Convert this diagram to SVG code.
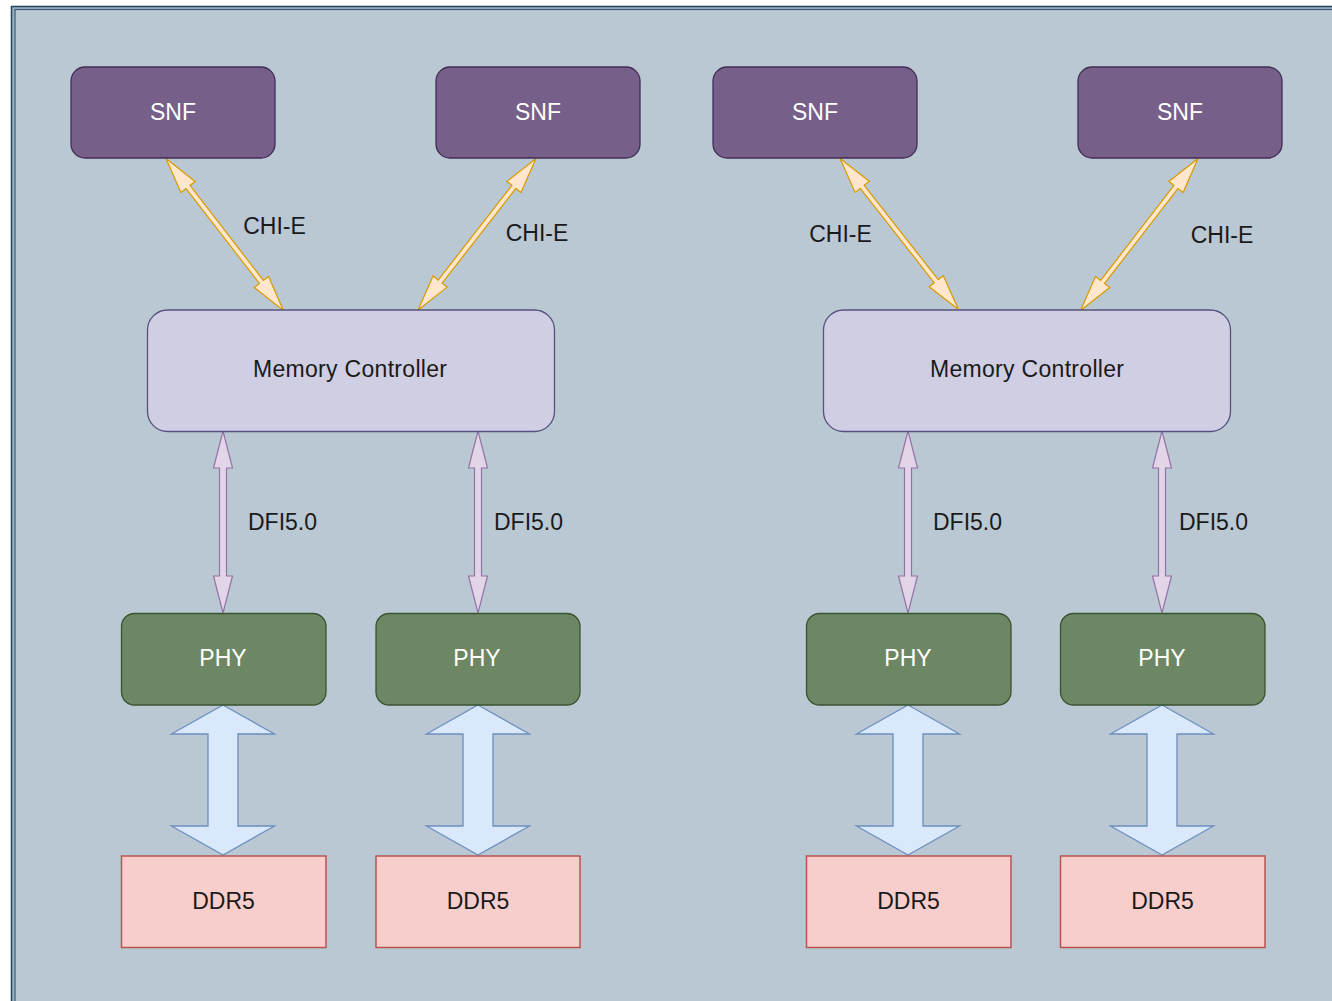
<svg xmlns="http://www.w3.org/2000/svg" xmlns:xlink="http://www.w3.org/1999/xlink" width="1332" height="1001" viewBox="0 0 1332 1001">
  <style>
    text { font-family: "Liberation Sans", Arial, Helvetica, sans-serif; font-size: 23px; }
    .lbl { fill: #1a1a1a; }
    .w { fill: #ffffff; text-anchor: middle; }
    .b { fill: #1a1a1a; text-anchor: middle; }
    .snf { fill: #76608a; stroke: #432d57; stroke-width: 1.3; }
    .mc { fill: #d0cee2; stroke: #56517e; stroke-width: 1.3; }
    .phy { fill: #6d8764; stroke: #3a5431; stroke-width: 1.3; }
    .ddr { fill: #f8cecc; stroke: #b85450; stroke-width: 1.5; }
    .chi { fill: #ffe6cc; stroke: #d79b00; stroke-width: 1.2; }
    .dfi { fill: #e1d5e7; stroke: #9673a6; stroke-width: 1.2; }
    .bus { fill: #dae8fc; stroke: #6c8ebf; stroke-width: 1.3; }
  </style>
  <defs>
    <!-- double-headed flex arrow, tip at origin, pointing along +x -->
    <path id="chiArrow" d="M0,0 L36,-9 L36,-2.5 L156,-2.5 L156,-9 L192,0 L156,9 L156,2.5 L36,2.5 L36,9 Z"/>
    <!-- vertical DFI link, 182px long -->
    <path id="dfiArrow" d="M0,0 L9.5,37 L3.5,37 L3.5,145 L9.5,145 L0,182 L-9.5,145 L-3.5,145 L-3.5,37 L-9.5,37 Z"/>
    <!-- wide PHY-DDR5 bus arrow, 150px long -->
    <path id="busArrow" d="M0,0 L51.5,29 L15,29 L15,121 L51.5,121 L0,150 L-51.5,121 L-15,121 L-15,29 L-51.5,29 Z"/>
  </defs>

  <!-- canvas and frame -->
  <rect x="0" y="0" width="1332" height="1001" fill="#ffffff"/>
  <rect x="11.5" y="6.5" width="1330" height="1000" fill="#9db1c2" stroke="#23445d" stroke-width="1.5"/>
  <rect x="15" y="9.5" width="1330" height="1000" fill="#bac8d3" stroke="#3d5a75" stroke-width="1.2"/>

  <!-- connectors -->
  <g id="connectors">
    <use xlink:href="#chiArrow" class="chi" transform="translate(166 158.5) rotate(52.3)"/>
    <use xlink:href="#chiArrow" class="chi" transform="translate(536 158.5) rotate(127.9)"/>
    <use xlink:href="#chiArrow" class="chi" transform="translate(840 158.5) rotate(51.9)"/>
    <use xlink:href="#chiArrow" class="chi" transform="translate(1198 158.5) rotate(127.7)"/>

    <use xlink:href="#dfiArrow" class="dfi" transform="translate(223 431)"/>
    <use xlink:href="#dfiArrow" class="dfi" transform="translate(478 431)"/>
    <use xlink:href="#dfiArrow" class="dfi" transform="translate(908 431)"/>
    <use xlink:href="#dfiArrow" class="dfi" transform="translate(1162 431)"/>

    <use xlink:href="#busArrow" class="bus" transform="translate(223 705)"/>
    <use xlink:href="#busArrow" class="bus" transform="translate(478 705)"/>
    <use xlink:href="#busArrow" class="bus" transform="translate(908 705)"/>
    <use xlink:href="#busArrow" class="bus" transform="translate(1162 705)"/>

    <text class="lbl" x="274.5" y="233.5" text-anchor="middle">CHI-E</text>
    <text class="lbl" x="537" y="241" text-anchor="middle">CHI-E</text>
    <text class="lbl" x="840.5" y="241.5" text-anchor="middle">CHI-E</text>
    <text class="lbl" x="1222" y="242.5" text-anchor="middle">CHI-E</text>

    <text class="lbl" x="248" y="530">DFI5.0</text>
    <text class="lbl" x="494" y="530">DFI5.0</text>
    <text class="lbl" x="933" y="530">DFI5.0</text>
    <text class="lbl" x="1179" y="530">DFI5.0</text>
  </g>

  <!-- SNF nodes -->
  <g id="snf1"><rect class="snf" x="71" y="67" width="204" height="91" rx="14"/><text class="w" x="173" y="120">SNF</text></g>
  <g id="snf2"><rect class="snf" x="436" y="67" width="204" height="91" rx="14"/><text class="w" x="538" y="120">SNF</text></g>
  <g id="snf3"><rect class="snf" x="713" y="67" width="204" height="91" rx="14"/><text class="w" x="815" y="120">SNF</text></g>
  <g id="snf4"><rect class="snf" x="1078" y="67" width="204" height="91" rx="14"/><text class="w" x="1180" y="120">SNF</text></g>

  <!-- memory controllers -->
  <g id="mc1"><rect class="mc" x="147.5" y="310" width="407" height="121.5" rx="20"/><text class="b" x="350" y="377" textLength="194">Memory Controller</text></g>
  <g id="mc2"><rect class="mc" x="823.5" y="310" width="407" height="121.5" rx="20"/><text class="b" x="1027" y="377" textLength="194">Memory Controller</text></g>

  <!-- PHY nodes -->
  <g id="phy1"><rect class="phy" x="121.5" y="613.5" width="204.5" height="91.5" rx="13"/><text class="w" x="223" y="666">PHY</text></g>
  <g id="phy2"><rect class="phy" x="376" y="613.5" width="204" height="91.5" rx="13"/><text class="w" x="477" y="666">PHY</text></g>
  <g id="phy3"><rect class="phy" x="806.5" y="613.5" width="204.5" height="91.5" rx="13"/><text class="w" x="908" y="666">PHY</text></g>
  <g id="phy4"><rect class="phy" x="1060.5" y="613.5" width="204.5" height="91.5" rx="13"/><text class="w" x="1162" y="666">PHY</text></g>

  <!-- DDR5 devices -->
  <g id="ddr1"><rect class="ddr" x="121.5" y="856" width="204.5" height="91.5"/><text class="b" x="223.5" y="909">DDR5</text></g>
  <g id="ddr2"><rect class="ddr" x="376" y="856" width="204" height="91.5"/><text class="b" x="478" y="909">DDR5</text></g>
  <g id="ddr3"><rect class="ddr" x="806.5" y="856" width="204.5" height="91.5"/><text class="b" x="908.5" y="909">DDR5</text></g>
  <g id="ddr4"><rect class="ddr" x="1060.5" y="856" width="204.5" height="91.5"/><text class="b" x="1162.5" y="909">DDR5</text></g>
</svg>
